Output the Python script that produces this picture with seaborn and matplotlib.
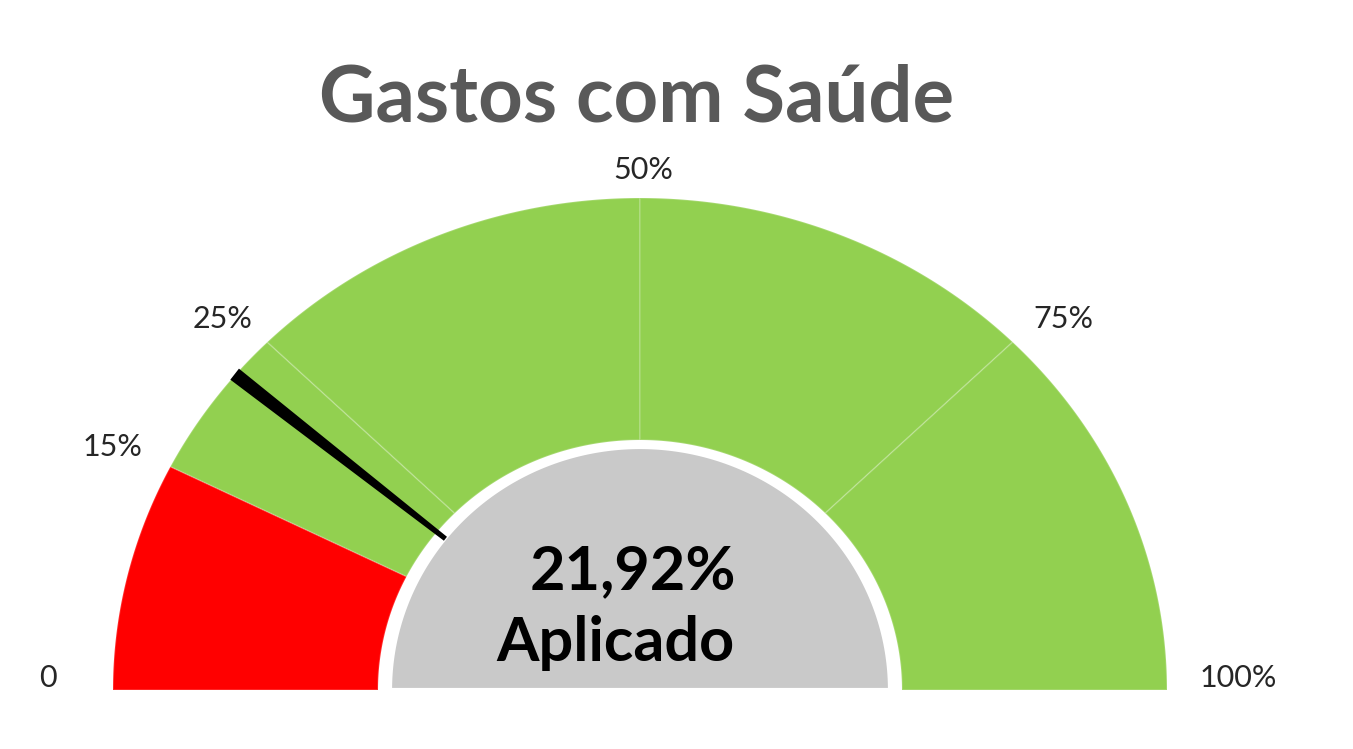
import numpy as np
import matplotlib.pyplot as plt
import seaborn as sns
from matplotlib.patches import Polygon

# gauge data
band_edges = [0, 15, 25, 50, 75, 100]
band_colors = ["#FF0000", "#92D050", "#92D050", "#92D050", "#92D050"]
tick_values = [0, 15, 25, 50, 75, 100]
tick_labels = ["0", "15%", "25%", "50%", "75%", "100%"]
value = 21.92
value_label = "21,92%"
center_label = "Aplicado"
title = "Gastos com Saúde"

sns.set_theme(style="white")
plt.rcParams["font.family"] = ["Lato", "DejaVu Sans"]

W, H = 1353, 749
fig = plt.figure(figsize=(W / 100, H / 100), dpi=100)
ax = fig.add_axes([0, 0, 1, 1])
ax.set_xlim(0, W)
ax.set_ylim(H, 0)
ax.axis("off")

cx, cy = 640, 690
rx_out, ry_out = 527, 492
rx_in, ry_in = 262, 250
rx_c, ry_c = 250, 243


def ang(v):
    return np.pi * (1 - v / 100)


def pt(theta, rx, ry):
    return cx + rx * np.cos(theta), cy - ry * np.sin(theta)


def band(v0, v1, n=80):
    t = np.linspace(ang(v0), ang(v1), n)
    outer = np.column_stack([cx + rx_out * np.cos(t), cy - ry_out * np.sin(t)])
    inner = np.column_stack([cx + rx_in * np.cos(t[::-1]), cy - ry_in * np.sin(t[::-1])])
    return np.vstack([outer, inner])


for v0, v1, c in zip(band_edges[:-1], band_edges[1:], band_colors):
    ax.add_patch(Polygon(band(v0, v1), closed=True, facecolor=c,
                         edgecolor=(1, 1, 1, 0.18), linewidth=1.2))

# center disc
t = np.linspace(np.pi, 0, 200)
disc = np.column_stack([cx + rx_c * np.cos(t), cy - ry_c * np.sin(t)])
ax.add_patch(Polygon(disc, closed=True, facecolor="#C9C9C9",
                     edgecolor="white", linewidth=3, zorder=3))

# needle
th = ang(value)
x0, y0 = pt(th, 252, 238)
x1, y1 = pt(th, 525, 497)
d = np.array([x1 - x0, y1 - y0])
d /= np.linalg.norm(d)
nrm = np.array([-d[1], d[0]])
p0 = np.array([x0, y0])
p1 = np.array([x1, y1])
needle = np.array([p0 + nrm * 2.5, p1 + nrm * 7, p1 - nrm * 7, p0 - nrm * 2.5])
ax.add_patch(Polygon(needle, closed=True, facecolor="black", edgecolor="none", zorder=4))

# tick labels
for v, lab in zip(tick_values, tick_labels):
    tt = ang(v)
    lx = cx + 595 * np.cos(tt) + 3
    ly = cy - 508 * np.sin(tt) - 12
    ax.text(lx, ly, lab, ha="center", va="center", fontsize=22, color="#262626")

ax.text(633, 571, value_label, ha="center", va="center", fontsize=44,
        fontweight="bold", color="black", zorder=5)
ax.text(615, 643, center_label, ha="center", va="center", fontsize=44,
        fontweight="bold", color="black", zorder=5)

ax.text(637, 100, title, ha="center", va="center", fontsize=56,
        fontweight="bold", color="#595959")

fig.savefig("out.png", dpi=100, facecolor="white")
